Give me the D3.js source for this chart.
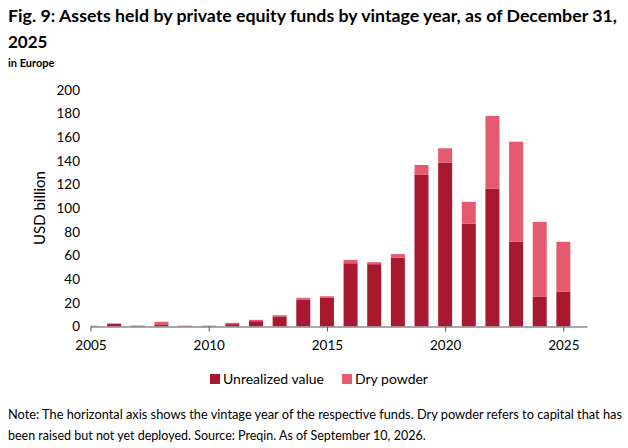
<!DOCTYPE html>
<html>
<head>
<meta charset="utf-8">
<script src="https://cdn.jsdelivr.net/npm/d3@7"></script>
<style>
  body { margin: 0; background: #fff; }
  svg { display: block; font-family: Lato, "Open Sans", sans-serif; }
</style>
</head>
<body>
<svg id="chart" width="628" height="448"></svg>
<script>
// vintage years and stacked values (USD billion)
const years = d3.range(2005, 2026);
const unrealized = [0.5, 2.3, 0.6, 1.8, 0.5, 0.5, 2.0, 4.5, 8.5, 22.5, 24.5, 53.5, 52.7, 58.3, 128.2, 138.6, 87.0, 116.6, 71.6, 25.4, 29.6];
const dryPowder = [0.2, 0.3, 0.2, 2.2, 0.2, 0.2, 1.1, 1.1, 1.1, 1.7, 1.1, 2.8, 1.7, 2.9, 8.4, 12.1, 18.4, 61.4, 84.7, 63.1, 42.0];
const yTicks = [0, 20, 40, 60, 80, 100, 120, 140, 160, 180, 200];
const xTicks = [2005, 2010, 2015, 2020, 2025];
const seriesNames = ["Unrealized value", "Dry powder"];
const colors = ["#a8182f", "#e65a70"];

const svg = d3.select("#chart");

const x = d3.scaleLinear().domain([2005, 2026]).range([90.5, 587]);
const y = d3.scaleLinear().domain([0, 200]).range([326.5, 90]);

const table = years.map((yr, i) => ({
  year: yr,
  "Unrealized value": unrealized[i],
  "Dry powder": dryPowder[i]
}));
const stacked = d3.stack().keys(seriesNames)(table);

const barW = 14;

// bars are cut off at the left end of the axis, as in the original
svg.append("clipPath")
  .attr("id", "plot-clip")
  .append("rect")
  .attr("x", x.range()[0]).attr("y", 0)
  .attr("width", x.range()[1] - x.range()[0]).attr("height", y(0));

svg.append("g")
  .attr("clip-path", "url(#plot-clip)")
  .selectAll("g")
  .data(stacked)
  .join("g")
  .attr("fill", (d, i) => colors[i])
  .selectAll("rect")
  .data(d => d)
  .join("rect")
  .attr("x", d => x(d.data.year) - barW / 2)
  .attr("y", d => y(d[1]))
  .attr("width", barW)
  .attr("height", d => y(d[0]) - y(d[1]));

// x axis
const xAxis = svg.append("g")
  .attr("transform", `translate(0,${y(0)})`)
  .call(d3.axisBottom(x).tickValues(xTicks).tickFormat(d3.format("d")).tickSize(5).tickSizeOuter(0));
xAxis.select(".domain").attr("stroke", "#555").attr("stroke-width", 1.2);
xAxis.selectAll(".tick line").attr("stroke", "#555");
xAxis.selectAll(".tick text")
  .attr("font-size", 13.5)
  .attr("font-family", "Lato, sans-serif")
  .attr("fill", "#000")
  .attr("dy", "1.15em");

// y axis (labels only)
const yAxis = svg.append("g")
  .attr("transform", "translate(80,0)")
  .call(d3.axisLeft(y).tickValues(yTicks).tickSize(0).tickPadding(0));
yAxis.select(".domain").remove();
yAxis.selectAll(".tick text")
  .attr("font-size", 13.5)
  .attr("font-family", "Lato, sans-serif")
  .attr("fill", "#000");

svg.append("text")
  .attr("transform", "translate(45,208) rotate(-90)")
  .attr("text-anchor", "middle")
  .attr("font-size", 15)
  .text("USD billion");

// title
svg.append("text")
  .attr("x", 8).attr("y", 22)
  .attr("font-size", 17).attr("font-weight", "bold")
  .attr("textLength", 609).attr("lengthAdjust", "spacingAndGlyphs")
  .text("Fig. 9: Assets held by private equity funds by vintage year, as of December 31,");
svg.append("text")
  .attr("x", 8).attr("y", 48)
  .attr("font-size", 17).attr("font-weight", "bold")
  .text("2025");
svg.append("text")
  .attr("x", 8).attr("y", 67)
  .attr("font-size", 11).attr("font-weight", "bold")
  .text("in Europe");

// legend
const legend = svg.append("g");
const legendX = [210, 342];
seriesNames.forEach((name, i) => {
  legend.append("rect")
    .attr("x", legendX[i]).attr("y", 374)
    .attr("width", 10).attr("height", 10)
    .attr("fill", colors[i]);
  legend.append("text")
    .attr("x", legendX[i] + 13).attr("y", 384)
    .attr("font-size", 14)
    .text(name);
});

// note
const noteLines = [
  "Note: The horizontal axis shows the vintage year of the respective funds. Dry powder refers to capital that has",
  "been raised but not yet deployed. Source: Preqin. As of September 10, 2026."
];
svg.append("g")
  .selectAll("text")
  .data(noteLines)
  .join("text")
  .attr("x", 8)
  .attr("y", (d, i) => 419 + i * 21)
  .attr("font-size", 12.5)
  .attr("textLength", (d, i) => i === 0 ? 614 : null)
  .attr("lengthAdjust", "spacingAndGlyphs")
  .text(d => d);
</script>
</body>
</html>
